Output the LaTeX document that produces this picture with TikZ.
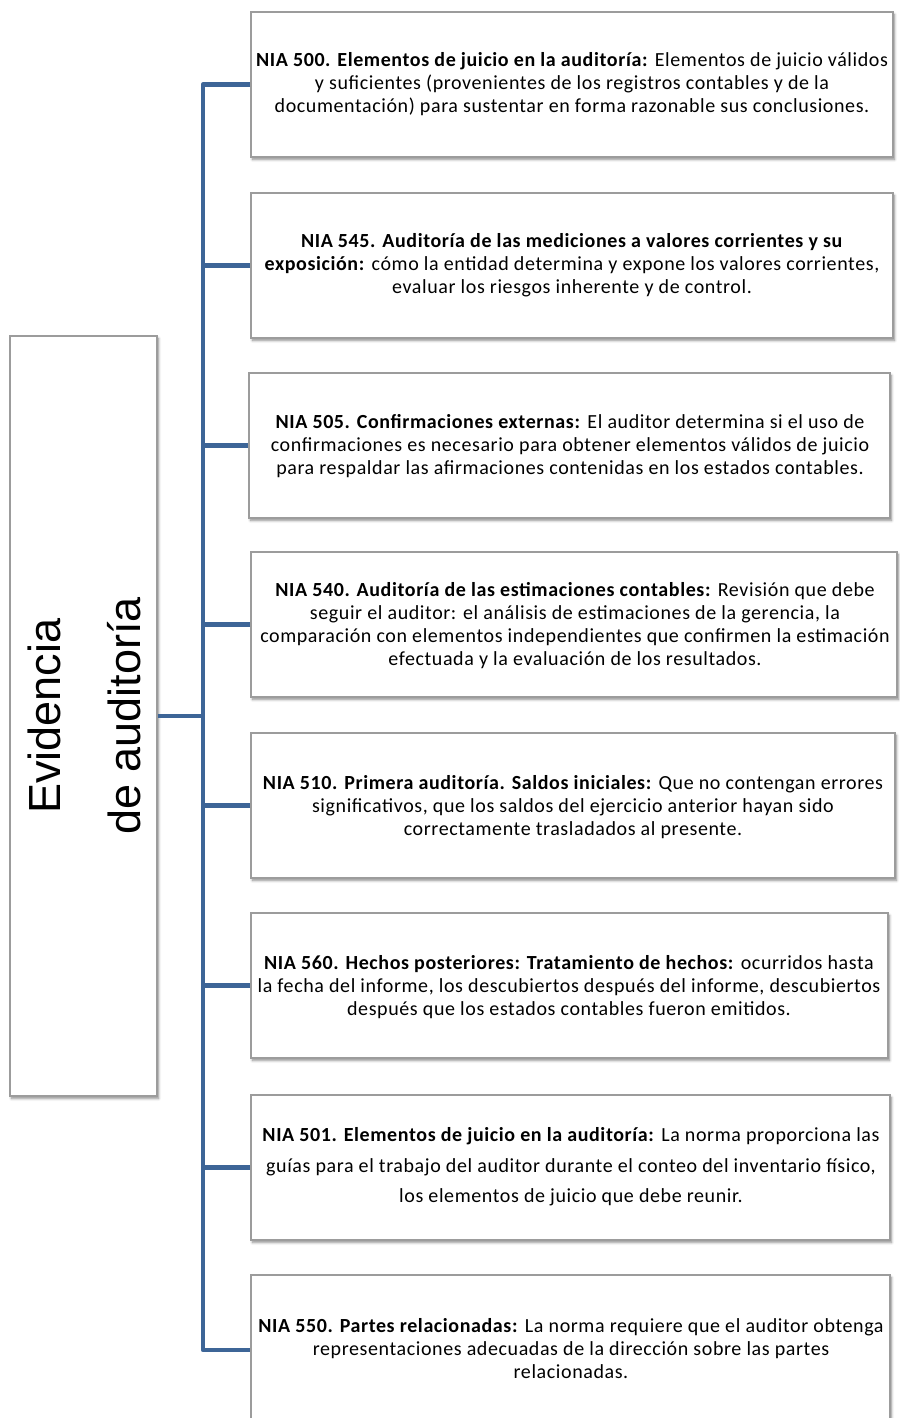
\documentclass[tikz,border=0pt]{standalone}
\usepackage{fontspec}
\setmainfont{Carlito}[LetterSpace=3]
\newfontfamily\leftfont{Liberation Sans}
\usetikzlibrary{shadows.blur}
\definecolor{connblue}{HTML}{3D6597}
\definecolor{boxgray}{HTML}{9C9C9C}
\tikzset{
  nbox/.style={draw=boxgray, line width=1.6pt, fill=white, rectangle, inner sep=0pt,
    blur shadow={shadow xshift=1.5pt, shadow yshift=-2.5pt, shadow blur steps=6, shadow opacity=45, shadow blur radius=2.5pt}},
  ntext/.style={align=center, inner sep=0pt, font=\fontsize{20}{23}\selectfont},
  conn/.style={draw=connblue, line width=4.5pt, line join=round}
}
\begin{document}
\begin{tikzpicture}[x=1pt,y=-1pt]
\useasboundingbox (0,0) rectangle (899,1418);
% left box
\node[nbox, minimum width=147, minimum height=760] (L) at (83.5,716) {};
\node[rotate=90, align=center, inner sep=0pt, font=\leftfont\fontsize{45}{80}\selectfont] (Lt) at (84,716) {Evidencia\\de auditoría};
% right boxes
\node[nbox, minimum width=642, minimum height=145] (b1) at (572,84.5) {};
\node[nbox, minimum width=642, minimum height=145] (b2) at (572,265.5) {};
\node[nbox, minimum width=641, minimum height=145] (b3) at (569.5,445.5) {};
\node[nbox, minimum width=646, minimum height=145] (b4) at (574,624.5) {};
\node[nbox, minimum width=644, minimum height=145] (b5) at (573,805.5) {};
\node[nbox, minimum width=637, minimum height=145] (b6) at (569.5,985.5) {};
\node[nbox, minimum width=639, minimum height=145] (b7) at (570.5,1167.5) {};
\node[nbox, minimum width=639, minimum height=150] (b8) at (570.5,1350) {};
% connectors
\coordinate (spine) at (203,0);
\draw[conn] (b1.west) -- (b1.west -| spine) -- (b8.west -| spine) -- (b8.west);
\draw[conn] (b2.west) -- (b2.west -| spine);
\draw[conn] (b3.west) -- (b3.west -| spine);
\draw[conn] (b4.west) -- (b4.west -| spine);
\draw[conn] (b5.west) -- (b5.west -| spine);
\draw[conn] (b6.west) -- (b6.west -| spine);
\draw[conn] (b7.west) -- (b7.west -| spine);
\draw[conn] (L.east) -- (L.east -| spine);
% texts
\node[ntext] (t1) at (572,84) {\textbf{NIA 500. Elementos de juicio en la auditoría:} Elementos de juicio válidos\\y suficientes (provenientes de los registros contables y de la\\documentación) para sustentar en forma razonable sus conclusiones.};
\node[ntext] (t2) at (572,265) {\textbf{NIA 545. Auditoría de las mediciones a valores corrientes y su}\\\textbf{exposición:} cómo la entidad determina y expone los valores corrientes,\\evaluar los riesgos inherente y de control.};
\node[ntext] (t3) at (570,446) {\textbf{NIA 505. Confirmaciones externas:} El auditor determina si el uso de\\confirmaciones es necesario para obtener elementos válidos de juicio\\para respaldar las afirmaciones contenidas en los estados contables.};
\node[ntext] (t4) at (575,626) {\textbf{NIA 540. Auditoría de las estimaciones contables:} Revisión que debe\\seguir el auditor: el análisis de estimaciones de la gerencia, la\\comparación con elementos independientes que confirmen la estimación\\efectuada y la evaluación de los resultados.};
\node[ntext] (t5) at (573,807) {\textbf{NIA 510. Primera auditoría. Saldos iniciales:} Que no contengan errores\\significativos, que los saldos del ejercicio anterior hayan sido\\correctamente trasladados al presente.};
\node[ntext] (t6) at (569,987) {\textbf{NIA 560. Hechos posteriores: Tratamiento de hechos:} ocurridos hasta\\la fecha del informe, los descubiertos después del informe, descubiertos\\después que los estados contables fueron emitidos.};
\node[ntext, font=\fontsize{20}{30.5}\selectfont] (t7) at (571,1167) {\textbf{NIA 501. Elementos de juicio en la auditoría:} La norma proporciona las\\guías para el trabajo del auditor durante el conteo del inventario físico,\\los elementos de juicio que debe reunir.};
\node[ntext] (t8) at (571,1349) {\textbf{NIA 550. Partes relacionadas:} La norma requiere que el auditor obtenga\\representaciones adecuadas de la dirección sobre las partes\\relacionadas.};
\end{tikzpicture}
\end{document}
